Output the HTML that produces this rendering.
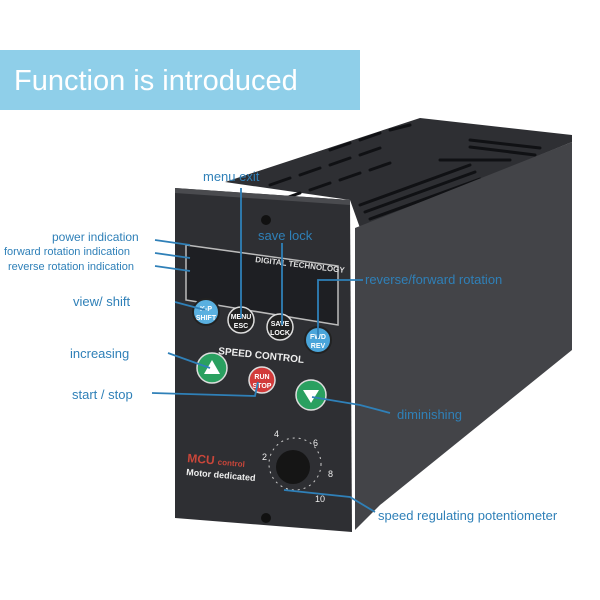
<!DOCTYPE html>
<html><head><meta charset="utf-8"><style>
html,body{margin:0;padding:0;background:#fff;}
svg{display:block;}
text{font-family:"Liberation Sans",sans-serif;}
</style></head><body>
<svg width="600" height="600" viewBox="0 0 600 600" xmlns="http://www.w3.org/2000/svg">
<rect width="600" height="600" fill="#fff"/>
<!-- banner -->
<rect x="0" y="50" width="360" height="60" fill="#8fcfe9"/>
<text x="14" y="90" font-size="29" fill="#fff">Function is introduced</text>
<!-- top face -->
<polygon points="225,182 420,118 572,135 572,142 360,228 350,200" fill="#2e2f33"/>
<g stroke="#101114" stroke-width="3" stroke-linecap="round">
<line x1="270" y1="185" x2="290" y2="178"/><line x1="300" y1="175" x2="320" y2="168"/><line x1="330" y1="165" x2="350" y2="158"/><line x1="360" y1="155" x2="380" y2="148"/>
<line x1="280" y1="200" x2="300" y2="193"/><line x1="310" y1="190" x2="330" y2="183"/><line x1="340" y1="180" x2="360" y2="173"/><line x1="370" y1="170" x2="390" y2="163"/>
<line x1="330" y1="150" x2="350" y2="143"/><line x1="360" y1="140" x2="380" y2="133"/><line x1="390" y1="130" x2="410" y2="125"/>
<line x1="360" y1="205" x2="470" y2="165"/><line x1="365" y1="212" x2="475" y2="172"/><line x1="370" y1="219" x2="480" y2="179"/>
<line x1="470" y1="140" x2="540" y2="148"/><line x1="470" y1="147" x2="535" y2="155"/>
<line x1="440" y1="160" x2="510" y2="160"/>
</g>
<!-- side face -->
<polygon points="355,228 572,142 572,350 380,505 355,530" fill="#434448"/>
<!-- front face -->
<polygon points="175,188 350,200 352,532 175,518" fill="#2e2f33"/>
<polygon points="175,188 350,200 350,205 175,193" fill="#4a4b4f"/>
<!-- screw holes -->
<circle cx="266" cy="220" r="5" fill="#111"/>
<circle cx="266" cy="518" r="5" fill="#111"/>
<!-- display -->
<polygon points="186,245 338,266 338,325 186,300" fill="#1e1f23" stroke="#bbb" stroke-width="1.5"/>
<text x="255" y="262" font-size="8" fill="#ddd" font-weight="bold" transform="rotate(7 255 262)">DIGITAL TECHNOLOGY</text>
<!-- buttons -->
<g font-size="7" font-weight="bold" text-anchor="middle">
<circle cx="206" cy="312" r="13" fill="#5ab0e0" stroke="#222" stroke-width="2"/>
<text x="206" y="311" fill="#fff">K-P</text><text x="206" y="320" fill="#fff">SHIFT</text>
<circle cx="241" cy="320" r="13" fill="#222" stroke="#ddd" stroke-width="1.5"/>
<text x="241" y="319" fill="#fff">MENU</text><text x="241" y="328" fill="#fff">ESC</text>
<circle cx="280" cy="327" r="13" fill="#222" stroke="#ddd" stroke-width="1.5"/>
<text x="280" y="326" fill="#fff">SAVE</text><text x="280" y="335" fill="#fff">LOCK</text>
<circle cx="318" cy="340" r="13" fill="#4aa5da" stroke="#222" stroke-width="2"/>
<text x="318" y="339" fill="#fff">FWD</text><text x="318" y="348" fill="#fff">REV</text>
</g>
<text x="218" y="354" font-size="10" font-weight="bold" fill="#eee" transform="rotate(6 218 354)">SPEED CONTROL</text>
<circle cx="212" cy="368" r="15" fill="#2aa060" stroke="#ddd" stroke-width="1.5"/>
<polygon points="212,360 220,374 204,374" fill="#fff"/>
<circle cx="262" cy="380" r="13" fill="#d23a3a" stroke="#ddd" stroke-width="1.5"/>
<text x="262" y="379" font-size="7" font-weight="bold" fill="#fff" text-anchor="middle">RUN</text>
<text x="262" y="388" font-size="7" font-weight="bold" fill="#fff" text-anchor="middle">STOP</text>
<circle cx="311" cy="395" r="15" fill="#2aa060" stroke="#ddd" stroke-width="1.5"/>
<polygon points="303,390 319,390 311,403" fill="#fff"/>
<!-- knob -->
<circle cx="293" cy="467" r="17" fill="#151515"/>
<circle cx="295" cy="464" r="26" fill="none" stroke="#ccc" stroke-width="1" stroke-dasharray="2 4"/>
<g font-size="9" fill="#eee"><text x="274" y="437">4</text><text x="313" y="446">6</text><text x="262" y="460">2</text><text x="328" y="477">8</text><text x="315" y="502">10</text></g>
<text x="187" y="462" font-size="12" fill="#c9463a" font-weight="bold" transform="rotate(5 187 462)">MCU <tspan font-size="8">control</tspan></text>
<text x="186" y="475" font-size="9" fill="#eee" font-weight="bold" transform="rotate(5 186 475)">Motor dedicated</text>
<!-- callouts -->
<g stroke="#2f80b8" stroke-width="1.8" fill="none">
<polyline points="241,188 241,318"/>
<polyline points="282,243 282,325"/>
<polyline points="155,240 190,245"/>
<polyline points="155,253 190,258"/>
<polyline points="155,266 190,271"/>
<polyline points="175,302 205,310"/>
<polyline points="318,338 318,280 363,280"/>
<polyline points="168,353 210,368"/>
<polyline points="152,393 255,396 258,382"/>
<polyline points="312,397 360,405 390,413"/>
<polyline points="284,490 350,497 375,512"/>
</g>
<g fill="#2f80b8" font-size="13">
<text x="203" y="181">menu exit</text>
<text x="258" y="240">save lock</text>
<text x="52" y="241" font-size="12">power indication</text>
<text x="4" y="255" font-size="11">forward rotation indication</text>
<text x="8" y="270" font-size="11">reverse rotation indication</text>
<text x="73" y="306">view/ shift</text>
<text x="365" y="284">reverse/forward rotation</text>
<text x="70" y="358">increasing</text>
<text x="72" y="399">start / stop</text>
<text x="397" y="419">diminishing</text>
<text x="378" y="520">speed regulating potentiometer</text>
</g>
</svg>
</body></html>
